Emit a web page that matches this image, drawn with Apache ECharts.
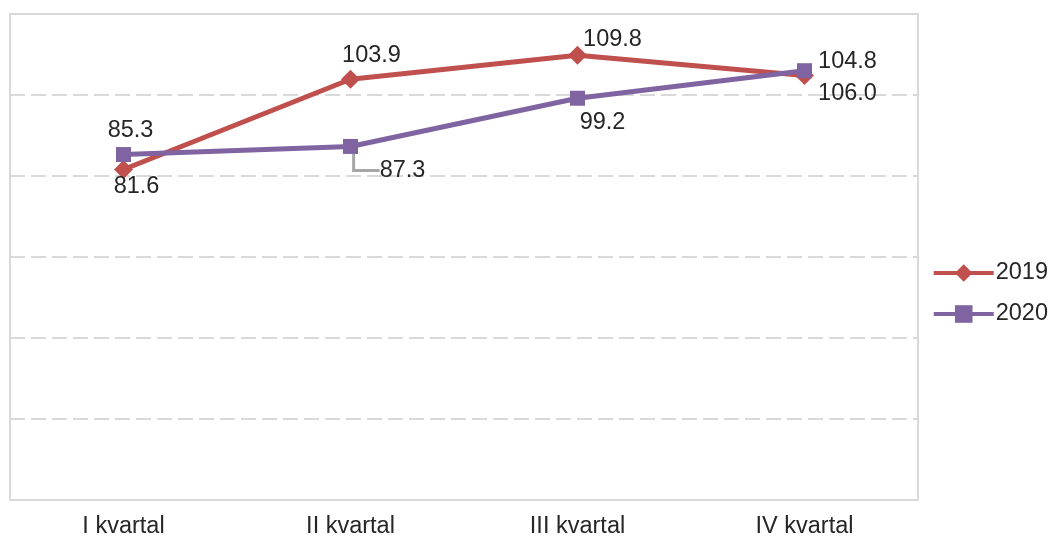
<!DOCTYPE html>
<html>
<head>
<meta charset="utf-8">
<script src="https://cdn.jsdelivr.net/npm/echarts@6/dist/echarts.min.js"></script>
<style>
  html, body { margin: 0; padding: 0; background: #fff; }
  #chart { width: 1053px; height: 536px; }
</style>
</head>
<body>
<div id="chart"></div>
<script>
const categories = ['I kvartal', 'II kvartal', 'III kvartal', 'IV kvartal'];
const values2019 = [81.6, 103.9, 109.8, 104.8];
const values2020 = [85.3, 87.3, 99.2, 106.0];

// label offsets from each marker
const offsets2019 = [[13, 17], [21, -24], [35, -16], [43, -14]];
const offsets2020 = [[7, -24], [52, 24], [25, 24], [43, 23]];

const fontFamily = '"Liberation Sans", Arial, sans-serif';
const textColor = '#262626';
const fontSize = 23.5;

const chart = echarts.init(document.getElementById('chart'));

let data2019 = values2019.map((v, i) => ({ value: v, label: { offset: offsets2019[i] } }));
let data2020 = values2020.map((v) => ({ value: v }));
// II kvartal label pulled away with a leader line
data2020[1].labelLine = { show: true };

const labelOpt = {
  show: true,
  position: 'inside',
  fontSize: fontSize,
  color: textColor,
  fontFamily: fontFamily,
  formatter: (p) => p.value.toFixed(1)
};

chart.setOption({
  animation: false,
  grid: {
    left: 10, right: 135, top: 14, bottom: 36,
    outerBoundsMode: 'none',
    show: true,
    borderColor: '#d9d9d9',
    borderWidth: 2
  },
  legend: {
    orient: 'vertical',
    right: 0,
    top: 256,
    itemGap: 17,
    itemWidth: 60,
    itemHeight: 22,
    lineStyle: { width: 4 },
    textStyle: { fontSize: fontSize, color: textColor, fontFamily: fontFamily, padding: [0, 0, 0, -3] },
    data: ['2019', '2020']
  },
  xAxis: {
    type: 'category',
    data: categories,
    axisLine: { show: false },
    axisTick: { show: false },
    axisLabel: { fontSize: fontSize, color: textColor, fontFamily: fontFamily, margin: 15 }
  },
  yAxis: {
    type: 'value',
    min: 0,
    max: 120,
    interval: 20,
    axisLabel: { show: false },
    axisLine: { show: false },
    axisTick: { show: false },
    splitLine: {
      lineStyle: { color: '#d9d9d9', width: 2, type: [15, 6] }
    }
  },
  series: [
    {
      name: '2019',
      type: 'line',
      data: data2019,
      symbol: 'diamond',
      symbolSize: 19,
      itemStyle: { color: '#c0504d' },
      lineStyle: { width: 5, color: '#c0504d' },
      label: labelOpt
    },
    {
      name: '2020',
      type: 'line',
      data: data2020,
      symbol: 'rect',
      symbolSize: 15,
      itemStyle: { color: '#8064a2' },
      lineStyle: { width: 5, color: '#8064a2' },
      label: labelOpt,
      labelLayout: (p) => ({ dx: offsets2020[p.dataIndex][0], dy: offsets2020[p.dataIndex][1] }),
      labelLine: {
        show: false,
        length2: 26,
        lineStyle: { color: '#a6a6a6', width: 3 }
      }
    }
  ]
});
</script>
</body>
</html>
